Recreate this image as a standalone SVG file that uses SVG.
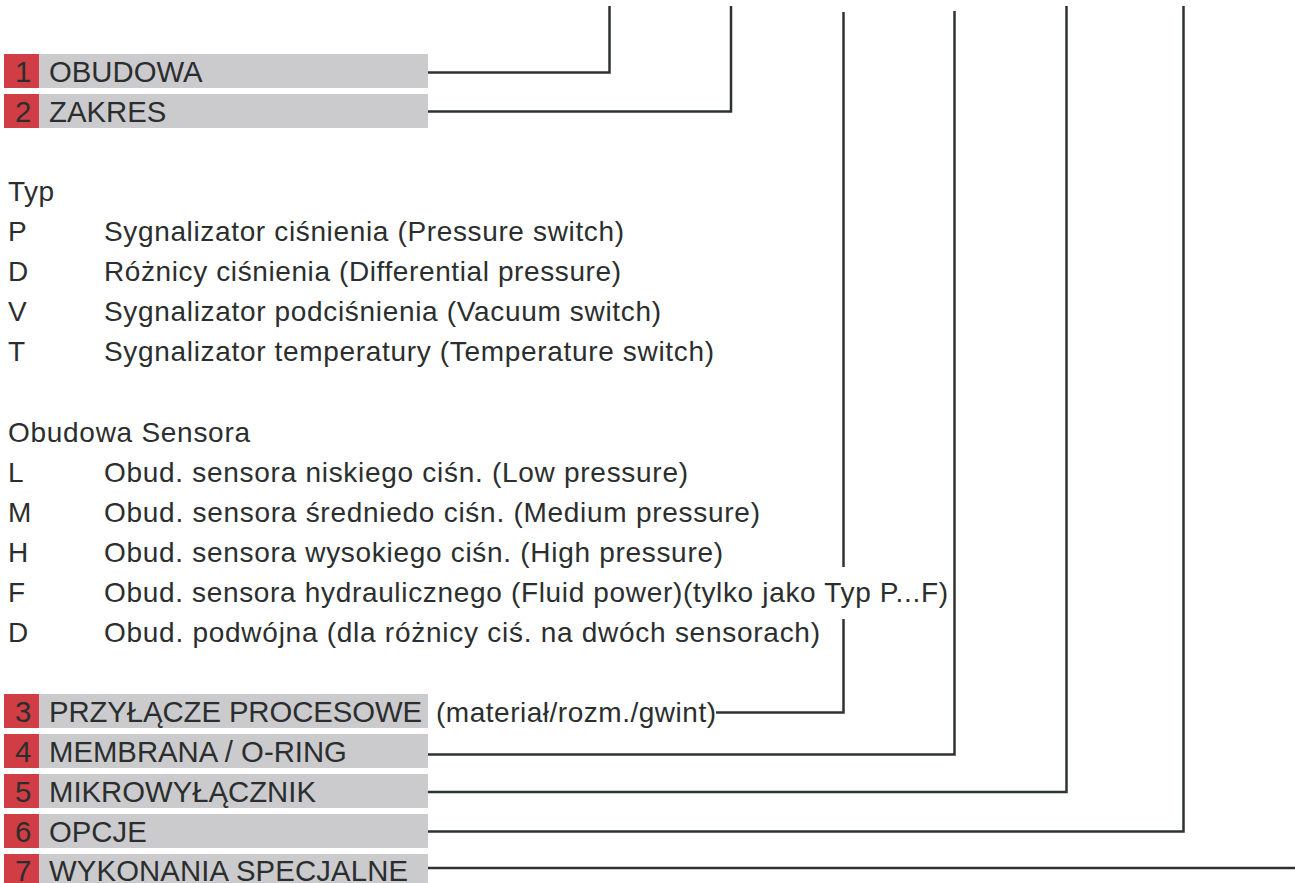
<svg xmlns="http://www.w3.org/2000/svg" width="1295" height="883" viewBox="0 0 1295 883">
<style>
.bg{fill:#ffffff}
.num{fill:#d03d44}
.bar{fill:#cbcbcd}
.lbl{font-family:"Liberation Sans",Arial,sans-serif;font-size:29.3px;fill:#2b2e2e}
.txt{font-family:"Liberation Sans",Arial,sans-serif;font-size:28px;fill:#2b2e2e}
.conn{fill:none;stroke:#2e3332;stroke-width:2.5;stroke-linejoin:miter}
</style>
<rect class="bg" x="0" y="0" width="1295" height="883"/>
<g id="connectors">
<path class="conn" d="M428,72.5 H609.5 V6"/>
<path class="conn" d="M428,111.5 H731 V6"/>
<path class="conn" d="M716,712.5 H843.5 V619"/>
<path class="conn" d="M843.5,567 V12"/>
<path class="conn" d="M428,754.5 H954.5 V11"/>
<path class="conn" d="M428,792 H1066.5 V6"/>
<path class="conn" d="M428,831.5 H1183.5 V6"/>
<path class="conn" d="M428,868 H1295"/>
</g>
<g id="node1"><rect class="bar" x="4" y="54" width="424" height="34"/><rect class="num" x="4" y="54" width="35" height="34"/><text class="lbl" x="15" y="82">1</text><text class="lbl" x="49" y="82">OBUDOWA</text></g>
<g id="node2"><rect class="bar" x="4" y="94" width="424" height="34"/><rect class="num" x="4" y="94" width="35" height="34"/><text class="lbl" x="15" y="122">2</text><text class="lbl" x="49" y="122">ZAKRES</text></g>
<g id="typ">
<text class="txt" x="8" y="201" textLength="46" lengthAdjust="spacing">Typ</text>
<text class="txt" x="8" y="241">P</text><text class="txt" x="104" y="241" textLength="520" lengthAdjust="spacing">Sygnalizator ciśnienia (Pressure switch)</text>
<text class="txt" x="8" y="281">D</text><text class="txt" x="104" y="281" textLength="517" lengthAdjust="spacing">Różnicy ciśnienia (Differential pressure)</text>
<text class="txt" x="8" y="321">V</text><text class="txt" x="104" y="321" textLength="557" lengthAdjust="spacing">Sygnalizator podciśnienia (Vacuum switch)</text>
<text class="txt" x="8" y="361">T</text><text class="txt" x="104" y="361" textLength="610" lengthAdjust="spacing">Sygnalizator temperatury (Temperature switch)</text>
</g>
<g id="obudowa-sensora">
<text class="txt" x="8" y="442" textLength="242" lengthAdjust="spacing">Obudowa Sensora</text>
<text class="txt" x="8" y="482">L</text><text class="txt" x="104" y="482" textLength="584" lengthAdjust="spacing">Obud. sensora niskiego ciśn. (Low pressure)</text>
<text class="txt" x="8" y="522">M</text><text class="txt" x="104" y="522" textLength="656" lengthAdjust="spacing">Obud. sensora średniedo ciśn. (Medium pressure)</text>
<text class="txt" x="8" y="562">H</text><text class="txt" x="104" y="562" textLength="619" lengthAdjust="spacing">Obud. sensora wysokiego ciśn. (High pressure)</text>
<text class="txt" x="8" y="602">F</text><text class="txt" x="104" y="602" textLength="844" lengthAdjust="spacing">Obud. sensora hydraulicznego (Fluid power)(tylko jako Typ P...F)</text>
<text class="txt" x="8" y="642">D</text><text class="txt" x="104" y="642" textLength="716" lengthAdjust="spacing">Obud. podwójna (dla różnicy ciś. na dwóch sensorach)</text>
</g>
<g id="node3"><rect class="bar" x="4" y="694" width="424" height="34"/><rect class="num" x="4" y="694" width="35" height="34"/><text class="lbl" x="15" y="722">3</text><text class="lbl" x="49" y="722" textLength="373" lengthAdjust="spacing">PRZYŁĄCZE PROCESOWE</text><text class="txt" x="436" y="722" textLength="280" lengthAdjust="spacing">(materiał/rozm./gwint)</text></g>
<g id="node4"><rect class="bar" x="4" y="734" width="424" height="34"/><rect class="num" x="4" y="734" width="35" height="34"/><text class="lbl" x="15" y="762">4</text><text class="lbl" x="49" y="762">MEMBRANA / O-RING</text></g>
<g id="node5"><rect class="bar" x="4" y="774" width="424" height="34"/><rect class="num" x="4" y="774" width="35" height="34"/><text class="lbl" x="15" y="802">5</text><text class="lbl" x="49" y="802">MIKROWYŁĄCZNIK</text></g>
<g id="node6"><rect class="bar" x="4" y="814" width="424" height="34"/><rect class="num" x="4" y="814" width="35" height="34"/><text class="lbl" x="15" y="842">6</text><text class="lbl" x="49" y="842">OPCJE</text></g>
<g id="node7"><rect class="bar" x="4" y="854" width="424" height="34"/><rect class="num" x="4" y="854" width="35" height="34"/><text class="lbl" x="15" y="881">7</text><text class="lbl" x="49" y="881" textLength="359" lengthAdjust="spacing">WYKONANIA SPECJALNE</text></g>
</svg>
